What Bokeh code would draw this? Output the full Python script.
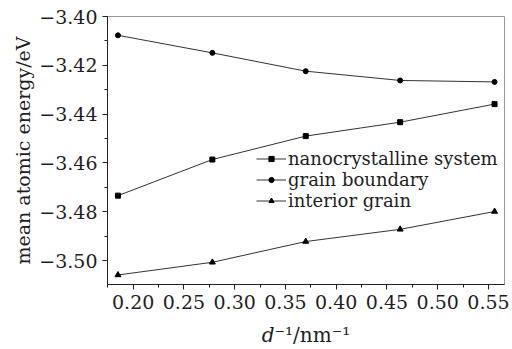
from bokeh.plotting import figure
from bokeh.embed import file_html
from bokeh.resources import INLINE
from bokeh.models import (Range1d, SingleIntervalTicker, CustomJSTickFormatter,
                          Legend, LegendItem)

# data
x_inv_d = [0.185, 0.278, 0.370, 0.463, 0.556]
nano_system = [-3.4734, -3.4586, -3.4490, -3.4433, -3.4359]
grain_boundary = [-3.4077, -3.4149, -3.4224, -3.4262, -3.4268]
interior_grain = [-3.5059, -3.5007, -3.4922, -3.4872, -3.4799]
series_names = ["nanocrystalline system", "grain boundary", "interior grain"]
y_title = "mean atomic energy/eV"
x_title = "\U0001D451\u207b\u00b9/nm\u207b\u00b9"

FONT = "DejaVu Serif"
TXT = "#1e1e1e"

p = figure(width=512, height=349, output_backend="svg", toolbar_location=None,
           x_range=Range1d(0.1747, 0.5658), y_range=Range1d(-3.5098, -3.40),
           min_border_left=107, min_border_right=8, min_border_top=16,
           min_border_bottom=65)
p.xgrid.visible = False
p.ygrid.visible = False
p.outline_line_color = "#9a9a9a"
p.outline_line_width = 1
p.background_fill_color = "white"
p.border_fill_color = "white"

r1l = p.line(x_inv_d, nano_system, line_color="#333333", line_width=1)
r1m = p.scatter(x_inv_d, nano_system, marker="square", size=5, color="black")
r2l = p.line(x_inv_d, grain_boundary, line_color="#333333", line_width=1)
r2m = p.scatter(x_inv_d, grain_boundary, marker="circle", size=5, color="black")
r3l = p.line(x_inv_d, interior_grain, line_color="#333333", line_width=1)
r3m = p.scatter(x_inv_d, interior_grain, marker="triangle", size=6, color="black")

fmt = CustomJSTickFormatter(code="return (tick < -1e-9 ? '\u2212' : '') + Math.abs(tick).toFixed(2);")

p.xaxis.ticker = SingleIntervalTicker(interval=0.05, num_minor_ticks=2)
p.yaxis.ticker = SingleIntervalTicker(interval=0.02, num_minor_ticks=2)
p.xaxis.formatter = fmt
p.yaxis.formatter = fmt
for ax in (p.xaxis, p.yaxis):
    ax.major_label_text_font = FONT
    ax.major_label_text_font_size = "19px"
    ax.major_label_text_color = TXT
    ax.axis_line_color = "#222222"
    ax.major_tick_line_color = "#222222"
    ax.minor_tick_line_color = "#222222"
    ax.major_tick_in = 0
    ax.major_tick_out = 5
    ax.minor_tick_in = 0
    ax.minor_tick_out = 3
    ax.axis_label_text_font = FONT
    ax.axis_label_text_font_style = "normal"
    ax.axis_label_text_color = TXT
p.xaxis.major_label_standoff = 5
p.yaxis.major_label_standoff = 5

p.yaxis.axis_label = y_title
p.yaxis.axis_label_text_font_size = "19px"
p.yaxis.axis_label_standoff = 2

p.xaxis.axis_label = x_title
p.xaxis.axis_label_text_font_size = "20px"
p.xaxis.axis_label_standoff = 11

legend = Legend(items=[LegendItem(label=series_names[0], renderers=[r1l, r1m]),
                       LegendItem(label=series_names[1], renderers=[r2l, r2m]),
                       LegendItem(label=series_names[2], renderers=[r3l, r3m])],
                location=(149, 73), border_line_color=None,
                background_fill_alpha=0, padding=0, margin=0, spacing=0,
                glyph_width=30, glyph_height=13, label_height=21,
                label_standoff=2, label_text_font=FONT,
                label_text_font_size="18px", label_text_color=TXT)
p.add_layout(legend)

open("out.html", "w").write(file_html(p, INLINE))
